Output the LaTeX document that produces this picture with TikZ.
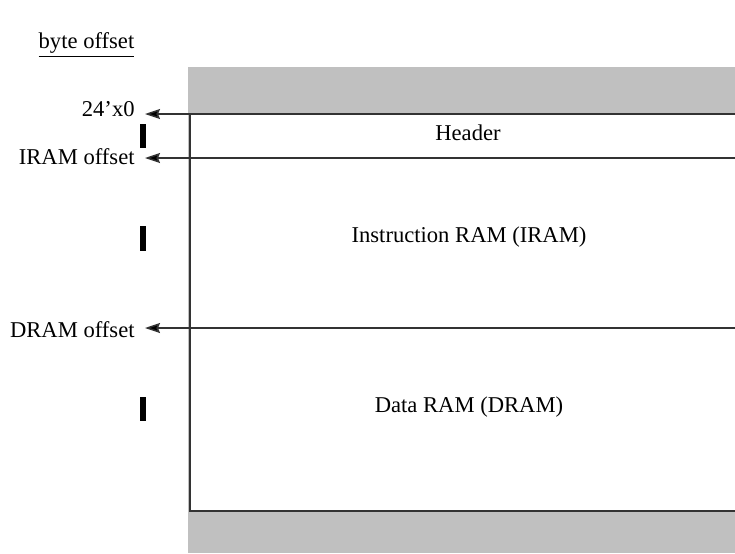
\documentclass[tikz,border=0pt]{standalone}
\usepackage{fontspec}
\setmainfont{Liberation Serif}
\usetikzlibrary{arrows.meta}
\definecolor{greyfill}{HTML}{C0C0C0}
\definecolor{edge}{HTML}{333333}
\tikzset{
  lbl/.style={font=\fontsize{11.3}{13}\selectfont, inner sep=0pt},
  rlbl/.style={lbl, anchor=east},
  mline/.style={draw=edge, line width=0.75pt},
  ptr/.style={mline, -{Stealth[length=7.5pt,width=5pt,inset=1pt,fill=black]}},
  tick/.style={fill=black, draw=none},
}
\begin{document}
\begin{tikzpicture}[x=0.5pt,y=-0.5pt]
\useasboundingbox (0,0) rectangle (735,553);
% gray background
\fill[greyfill] (188,67) rectangle (735,553);
\fill[white] (190,114) rectangle (735,511);
% box outline and divisions
\coordinate (tl) at (190,114);
\coordinate (tr) at (735,114);
\coordinate (bl) at (190,511);
\coordinate (br) at (735,511);
\coordinate (ir) at (735,158);
\coordinate (dr) at (735,328);
\draw[mline] (tr) -- (tl) -- (bl) -- (br);
% arrows
\coordinate (a0) at (145,114);
\coordinate (a1) at (145,158);
\coordinate (a2) at (145,328);
\draw[ptr] (tl) -- (a0);
\draw[ptr] (ir) -- (a1);
\draw[ptr] (dr) -- (a2);
% left labels
\node[lbl] (hdr) at (86.5,45) {\underline{byte offset}};
\node[rlbl] (l0) at (135,109) {24’x0};
\node[rlbl] (l1) at (135,157) {IRAM offset};
\node[rlbl] (l2) at (135,330) {DRAM offset};
% tick bars
\fill[tick] (140,124) rectangle (146,148);
\fill[tick] (140,226) rectangle (146,251);
\fill[tick] (140,397) rectangle (146,421);
% region labels
\node[lbl] (h) at (468,133) {Header};
\node[lbl] (i) at (469,237) {Instruction RAM (IRAM)};
\node[lbl] (d) at (469,407) {Data RAM (DRAM)};
\end{tikzpicture}
\end{document}
